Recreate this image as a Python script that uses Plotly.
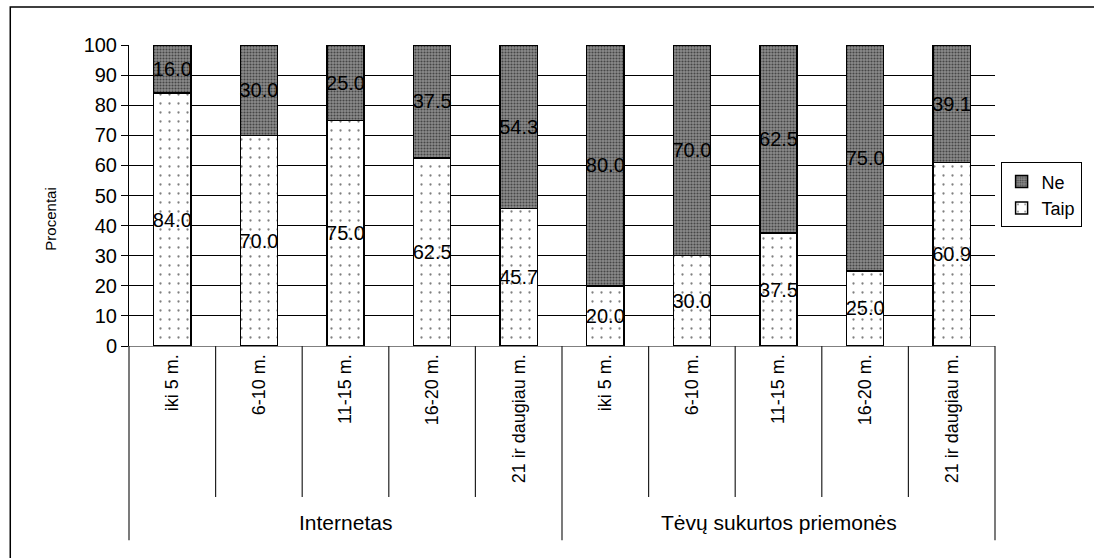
import plotly.graph_objects as go

groups = ["Internetas", "Tėvų sukurtos priemonės"]
categories = ["iki 5 m.", "6-10 m.", "11-15 m.", "16-20 m.", "21 ir daugiau m."]
taip = [84.0, 70.0, 75.0, 62.5, 45.7, 20.0, 30.0, 37.5, 25.0, 60.9]
ne = [16.0, 30.0, 25.0, 37.5, 54.3, 80.0, 70.0, 62.5, 75.0, 39.1]
y_ticks = list(range(0, 101, 10))

n = len(groups) * len(categories)
xs = list(range(n))
ticktext = categories * len(groups)

FONT = "Liberation Sans, Arial, sans-serif"

fig = go.Figure()
fig.add_trace(go.Bar(
    x=xs, y=taip, name="Taip", width=0.43,
    text=[f"{v:.1f}" for v in taip], textposition="inside",
    insidetextanchor="middle", textangle=0, constraintext="none",
    insidetextfont=dict(family=FONT, size=20, color="black"),
    marker=dict(color="white", line=dict(color="black", width=1.5),
                pattern=dict(shape=".", fgcolor="black", bgcolor="white",
                             size=9, solidity=0.05)),
))
fig.add_trace(go.Bar(
    x=xs, y=ne, name="Ne", width=0.43,
    text=[f"{v:.1f}" for v in ne], textposition="inside",
    insidetextanchor="middle", textangle=0, constraintext="none",
    insidetextfont=dict(family=FONT, size=20, color="black"),
    marker=dict(color="#808080", line=dict(color="black", width=1.5),
                pattern=dict(shape=".", fgcolor="black", bgcolor="#8c8c8c",
                             size=3, solidity=0.4)),
))

shapes = []
# separators under the axis
for i in range(n + 1):
    is_group = i % len(categories) == 0
    shapes.append(dict(type="line", xref="paper", yref="paper",
                       x0=i / n, x1=i / n, y0=0,
                       y1=-0.645 if is_group else -0.502,
                       line=dict(color="#222222", width=1.2)))
# outer chart border
shapes.append(dict(type="rect", xref="paper", yref="paper",
                   x0=-0.1371, x1=1.25, y0=-0.9, y1=1.1262,
                   line=dict(color="black", width=1.5)))

annotations = []
for g, name in enumerate(groups):
    center = g * len(categories) + (len(categories) - 1) / 2
    annotations.append(dict(text=name, x=center, xref="x", y=-0.588, yref="paper",
                            showarrow=False, font=dict(family=FONT, size=21, color="black"),
                            xanchor="center", yanchor="middle"))
annotations.append(dict(text="Procentai", x=-0.09, xref="paper", y=0.42, yref="paper",
                        textangle=-90, showarrow=False,
                        font=dict(family=FONT, size=15, color="black"),
                        xanchor="center", yanchor="middle"))

fig.update_layout(
    width=1094, height=558,
    margin=dict(l=129, r=90, t=45, b=212),
    barmode="stack",
    paper_bgcolor="white", plot_bgcolor="white",
    font=dict(family=FONT, color="black", size=18),
    showlegend=True,
    legend=dict(x=1.1, xanchor="right", y=0.61, yanchor="top",
                traceorder="reversed", bordercolor="black", borderwidth=1,
                itemwidth=30,
                font=dict(family=FONT, size=18, color="black"),
                bgcolor="white"),
    shapes=shapes,
    annotations=annotations,
    xaxis=dict(range=[-0.5, n - 0.5], tickmode="array", tickvals=xs,
               ticktext=ticktext, tickangle=-90, ticks="",
               showline=True, linecolor="#808080", linewidth=1,
               showgrid=False, zeroline=False, fixedrange=True,
               tickfont=dict(family=FONT, size=18, color="black")),
    yaxis=dict(range=[0, 100], tickmode="array", tickvals=y_ticks,
               ticks="outside", ticklen=7, tickcolor="black",
               showline=True, linecolor="black", linewidth=1,
               showgrid=True, gridcolor="black", gridwidth=1,
               zeroline=False, fixedrange=True,
               tickfont=dict(family=FONT, size=20, color="black")),
)

fig.write_html("out.html", config={"displayModeBar": False},
               post_script="document.body.style.margin='0px';")
